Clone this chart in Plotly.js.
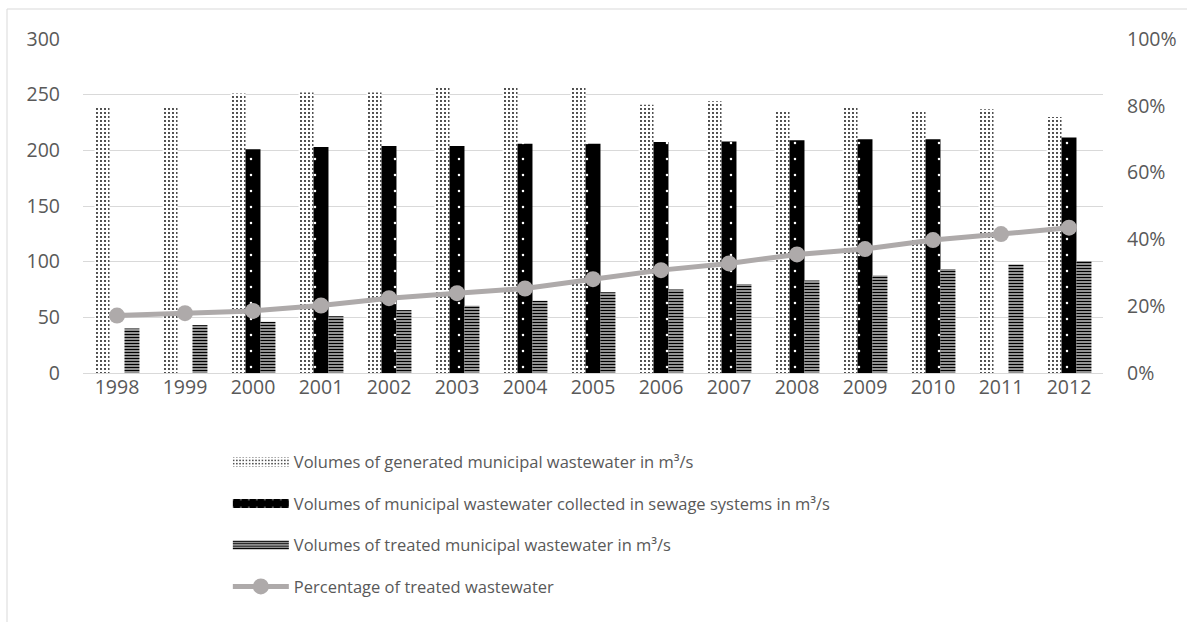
<!DOCTYPE html>
<html>
<head>
<meta charset="utf-8">
<script src="https://cdn.plot.ly/plotly-3.0.1.min.js"></script>
<style>
  html, body { margin: 0; padding: 0; background: #ffffff; }
  #chart { width: 1187px; height: 622px; }
</style>
</head>
<body>
<div id="chart"></div>
<script>
const years = ['1998','1999','2000','2001','2002','2003','2004','2005','2006','2007','2008','2009','2010','2011','2012'];
const generated = [239, 239, 251, 252, 252, 256, 256, 256, 241, 244, 236, 238, 236, 237, 230];
const collected = [null, null, 201, 203, 204, 204, 206, 206, 207.5, 208, 209, 210, 210, null, 211.5];
const treated = [40, 43, 46, 51, 56.5, 60.5, 65, 72.5, 75, 80, 83, 87.5, 93.5, 97.5, 100.5];
const percentTreated = [0.172, 0.179, 0.186, 0.202, 0.224, 0.239, 0.253, 0.281, 0.308, 0.328, 0.355, 0.371, 0.398, 0.416, 0.435];

const names = [
  'Volumes of generated municipal wastewater in m³/s',
  'Volumes of municipal wastewater collected in sewage systems in m³/s',
  'Volumes of treated municipal wastewater in m³/s',
  'Percentage of treated wastewater'
];

const FONT = 'Open Sans, sans-serif';
const TXT = '#595959';
const GRID = '#d9d9d9';

const traces = [
  {
    type: 'bar', x: years, y: generated, name: names[0], legendgroup: 'a',
    marker: { color: '#ffffff', line: { width: 0 },
      pattern: { shape: '.', fgcolor: '#000000', bgcolor: '#ffffff', size: 4, solidity: 0.16, fillmode: 'replace' } },
    hoverinfo: 'x+y'
  },
  {
    type: 'bar', x: years, y: collected, name: names[1], legendgroup: 'b',
    marker: { color: '#000000', line: { width: 0 },
      pattern: { shape: '.', fgcolor: '#ffffff', bgcolor: '#000000', size: 16, solidity: 0.02, fillmode: 'replace' } },
    hoverinfo: 'x+y'
  },
  {
    type: 'bar', x: years, y: treated, name: names[2], legendgroup: 'c',
    marker: { color: '#000000', line: { width: 0 },
      pattern: { shape: '-', fgcolor: '#000000', bgcolor: '#ffffff', size: 3, solidity: 0.62, fillmode: 'replace' } },
    hoverinfo: 'x+y'
  },
  {
    type: 'scatter', mode: 'lines+markers', x: years, y: percentTreated, name: names[3], legendgroup: 'd',
    yaxis: 'y2', cliponaxis: false,
    line: { color: '#aeaaaa', width: 5 },
    marker: { color: '#aeaaaa', size: 16, symbol: 'circle' }
  }
];

const layout = {
  width: 1187, height: 622,
  margin: { l: 83, r: 84, t: 39, b: 249 },
  paper_bgcolor: '#ffffff', plot_bgcolor: '#ffffff',
  font: { family: FONT, color: TXT, size: 17 },
  barmode: 'group', bargap: 0.34, bargroupgap: 0,
  showlegend: true,
  legend: {
    orientation: 'v', x: 0.142, xanchor: 'left', y: -0.215, yanchor: 'top',
    traceorder: 'grouped', tracegroupgap: 17, itemwidth: 56,
    font: { family: FONT, size: 16.5, color: TXT },
    bgcolor: 'rgba(0,0,0,0)'
  },
  xaxis: {
    type: 'category', range: [-0.5, 14.5], showgrid: false, zeroline: false, showline: false,
    ticks: '', tickfont: { family: FONT, size: 19.5, color: TXT }
  },
  yaxis: {
    range: [0, 300], dtick: 50, showgrid: true, gridcolor: GRID, gridwidth: 1,
    zeroline: true, zerolinecolor: GRID, zerolinewidth: 1, showline: false,
    ticks: '', ticklabelstandoff: 22, tickfont: { family: FONT, size: 19.5, color: TXT }
  },
  yaxis2: {
    overlaying: 'y', side: 'right', range: [0, 1], dtick: 0.2, tickformat: '.0%',
    showgrid: false, zeroline: false, showline: false, ticks: '', ticklabelstandoff: 23,
    tickfont: { family: FONT, size: 19.5, color: TXT }
  },
  shapes: [
    { type: 'line', xref: 'paper', yref: 'paper', x0: -0.0745, x1: 1.2, y0: 1.0898, y1: 1.0898,
      line: { color: GRID, width: 1 } },
    { type: 'line', xref: 'paper', yref: 'paper', x0: -0.0745, x1: -0.0745, y0: 1.0898, y1: -0.8,
      line: { color: GRID, width: 1 } }
  ]
};

function widenSwatches() {
  const gd = document.getElementById('chart');
  const items = gd.querySelectorAll('.legend g.traces');
  items.forEach(function (item, i) {
    if (i > 2) return;
    item.querySelectorAll('g.legendpoints path').forEach(function (p) {
      p.setAttribute('d', 'M28,4.5H-28V-4.5H28Z');
    });
  });
}

Plotly.newPlot('chart', traces, layout, { displayModeBar: false, staticPlot: true }).then(function () {
  widenSwatches();
  setTimeout(widenSwatches, 50);
});
</script>
</body>
</html>
